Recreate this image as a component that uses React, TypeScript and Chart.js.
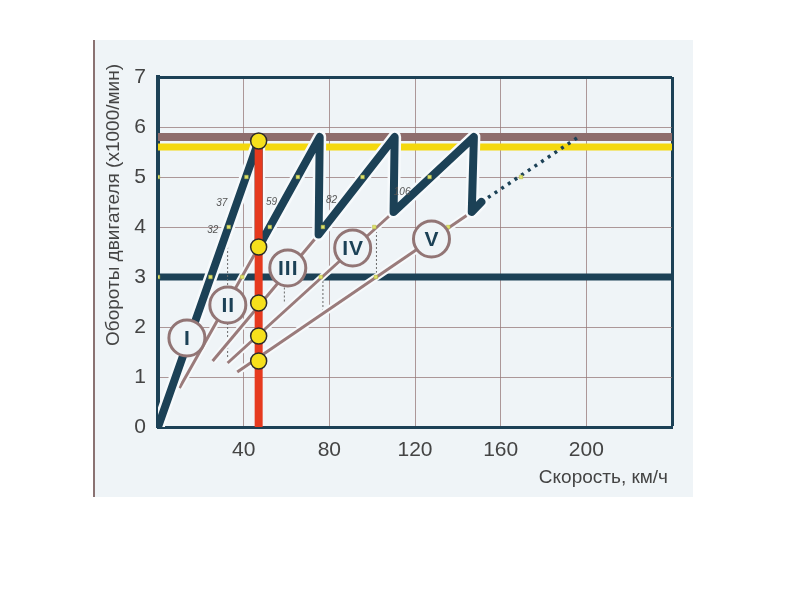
import React, { useEffect, useRef } from 'react';
import { Chart, registerables } from 'chart.js';
Chart.register(...registerables);

// ---- data ----
const xMin = 0;
const xMax = 240;
const xStep = 40;
const yMin = 0;
const yMax = 7;
const xTitle = 'Скорость, км/ч';
const yTitle = 'Обороты двигателя (x1000/мин)';

// shift sawtooth (engine rpm vs speed through the gears)
const sawX = [0, 47, 47, 75.5, 75, 110.5, 110, 147.5, 146.5, 151];
const sawY = [0, 5.72, 3.6, 5.8, 3.85, 5.8, 4.3, 5.8, 4.3, 4.5];
// 5th gear continuation (dotted)
const dotX = [151, 197];
const dotY = [4.5, 5.82];

// lower parts of gear lines II..V
const gearLineStartX = [10, 25.5, 32.5, 37];
const gearLineStartY = [0.78, 1.32, 1.28, 1.1];
const gearLineEndX = [47, 75, 110, 146.5];
const gearLineEndY = [3.6, 3.85, 4.3, 4.3];

// gear badges
const gearNames = ['I', 'II', 'III', 'IV', 'V'];
const gearCircleX = [13.5, 32.6, 60.6, 90.9, 127.7];
const gearCircleY = [1.78, 2.44, 3.18, 3.58, 3.76];

// vertical speed line and its checkpoints
const redLineX = 47;
const redLineY = [0, 5.72];
const checkpointY = [5.72, 3.6, 2.48, 1.82, 1.32];

// horizontal levels
const maxRpmLevel = 5.8;
const optimalRpmLevel = 5.6;
const minRpmLevel = 3;

// small markers
const markerX = [0, 0, 24.5, 33, 41.3, 39.3, 52.2, 65.3, 57, 77, 95.5, 76, 101, 126.8, 101.7, 135.5, 169.5];
const markerY = [5, 3, 3, 4, 5, 3, 4, 5, 3, 4, 5, 3, 4, 5, 3, 4, 5];

// small speed annotations
const speedLabels = ['37', '32', '59', '82', '106'];
const speedLabelX = [29.8, 25.6, 53, 81, 114];
const speedLabelY = [4.48, 3.94, 4.5, 4.54, 4.7];

// construction drop lines
const dropX = [32.5, 59, 77, 102];
const dropTopY = [4, 2.95, 3, 4];
const dropBottomY = [1.28, 2.5, 2.3, 3];

// ---- styles ----
const PANEL = '#eff4f7';
const NAVY = '#1c4156';
const BROWN = '#8e6d6c';
const YELLOW = '#f4d80e';
const RED = '#e63a1f';
const GEARLINE = '#9a7b7b';
const TEXT = '#444444';
const HALO = '#f7fafc';

const pts = (xs: number[], ys: number[]) => xs.map((x, i) => ({ x, y: ys[i] }));

const decorPlugin = {
  id: 'decor',
  beforeDraw(chart: any) {
    const { ctx, width, height } = chart;
    ctx.save();
    ctx.fillStyle = '#ffffff';
    ctx.fillRect(0, 0, width, height);
    ctx.fillStyle = PANEL;
    ctx.fillRect(95, 40, 598, 457);
    ctx.fillStyle = '#8a7272';
    ctx.fillRect(93, 40, 2, 457);
    ctx.restore();
  },
  afterDatasetsDraw(chart: any) {
    const { ctx } = chart;
    const xs = chart.scales.x;
    const ys = chart.scales.y;
    ctx.save();
    // gear badges text
    ctx.fillStyle = NAVY;
    ctx.textAlign = 'center';
    ctx.textBaseline = 'middle';
    ctx.font = "bold 21px 'Liberation Sans Narrow', 'Liberation Sans', sans-serif";
    try { (ctx as any).letterSpacing = '1px'; } catch (e) {}
    gearNames.forEach((n, i) => {
      ctx.fillText(n, xs.getPixelForValue(gearCircleX[i]) + 0.5, ys.getPixelForValue(gearCircleY[i]) + 1);
    });
    try { (ctx as any).letterSpacing = '0px'; } catch (e) {}
    // speed annotations
    ctx.fillStyle = '#555';
    ctx.font = "italic 10px 'Liberation Sans', sans-serif";
    speedLabels.forEach((s, i) => {
      ctx.fillText(s, xs.getPixelForValue(speedLabelX[i]), ys.getPixelForValue(speedLabelY[i]));
    });
    // axis titles
    ctx.fillStyle = TEXT;
    ctx.font = "19px 'Liberation Sans', sans-serif";
    ctx.save();
    ctx.translate(114, 205);
    ctx.rotate(-Math.PI / 2);
    ctx.fillText(yTitle, 0, 0);
    ctx.restore();
    ctx.font = "19px 'Liberation Sans', sans-serif";
    ctx.textAlign = 'right';
    ctx.fillText(xTitle, 668, 478);
    ctx.restore();
  },
};

export default function App() {
  const ref = useRef<HTMLCanvasElement>(null);
  useEffect(() => {
    if (!ref.current) return;
    const line = (data: any[], color: string, width: number, order: number, extra: any = {}) => ({
      type: 'line',
      data,
      borderColor: color,
      borderWidth: width,
      pointRadius: 0,
      showLine: true,
      fill: false,
      tension: 0,
      order,
      ...extra,
    });
    const datasets: any[] = [
      line(pts([xMin, xMax], [maxRpmLevel, maxRpmLevel]), BROWN, 8, 30),
      line(pts([xMin, xMax], [optimalRpmLevel, optimalRpmLevel]), YELLOW, 7, 29),
      line(pts([xMin, xMax], [minRpmLevel, minRpmLevel]), NAVY, 7, 28),
      ...dropX.map((x, i) =>
        line(pts([x, x], [dropTopY[i], dropBottomY[i]]), '#6a6a6a', 1, 27, { borderDash: [2, 2] })
      ),
      ...gearLineStartX.map((x, i) =>
        line(pts([x, gearLineEndX[i]], [gearLineStartY[i], gearLineEndY[i]]), HALO, 7, 26)
      ),
      ...gearLineStartX.map((x, i) =>
        line(pts([x, gearLineEndX[i]], [gearLineStartY[i], gearLineEndY[i]]), GEARLINE, 3, 25)
      ),
      line(pts(dotX, dotY), NAVY, 3.5, 24, { borderDash: [3, 5] }),
      line(pts(sawX, sawY), HALO, 13, 23, { borderJoinStyle: 'round', borderCapStyle: 'round' }),
      line(pts(sawX, sawY), NAVY, 8, 22, { borderJoinStyle: 'round', borderCapStyle: 'round' }),
      line(pts([redLineX, redLineX], redLineY), RED, 8, 21),
      {
        type: 'scatter',
        data: pts(markerX, markerY),
        pointStyle: 'rect',
        pointRadius: 2.5,
        pointBackgroundColor: '#dfe36a',
        pointBorderColor: '#b5b845',
        pointBorderWidth: 0.5,
        showLine: false,
        order: 20,
      },
      {
        type: 'scatter',
        data: pts(checkpointY.map(() => redLineX), checkpointY),
        pointRadius: 8,
        pointBackgroundColor: '#f6e01c',
        pointBorderColor: '#2a2a2a',
        pointBorderWidth: 1.5,
        showLine: false,
        order: 19,
      },
      {
        type: 'scatter',
        data: pts(gearCircleX, gearCircleY),
        pointRadius: 18,
        pointBackgroundColor: PANEL,
        pointBorderColor: '#927575',
        pointBorderWidth: 3,
        showLine: false,
        order: 18,
      },
    ];
    const tickFont = { family: "'Liberation Sans', sans-serif", size: 21 };
    const chart = new Chart(ref.current, {
      type: 'scatter',
      data: { datasets },
      options: {
        animation: false,
        responsive: true,
        maintainAspectRatio: false,
        layout: { padding: { left: 0, right: 128, top: 77, bottom: 0 } },
        plugins: { legend: { display: false }, tooltip: { enabled: false } },
        scales: {
          x: {
            type: 'linear',
            min: xMin,
            max: xMax,
            ticks: {
              stepSize: xStep,
              color: TEXT,
              font: tickFont,
              padding: 11,
              callback: (v: any) => (v === xMin || v === xMax ? '' : String(v)),
            },
            grid: {
              drawTicks: false,
              color: (c: any) =>
                c.tick && c.tick.value === xMax ? NAVY : c.tick && c.tick.value === xMin ? 'rgba(0,0,0,0)' : 'rgba(150,120,120,0.75)',
              lineWidth: (c: any) => (c.tick && c.tick.value === xMax ? 3 : 1),
            },
            border: { display: true, color: NAVY, width: 3 },
            afterFit: (s: any) => {
              s.height = 173;
            },
          },
          y: {
            type: 'linear',
            min: yMin,
            max: yMax,
            ticks: { stepSize: 1, color: TEXT, font: tickFont, padding: 12 },
            grid: {
              drawTicks: false,
              color: (c: any) =>
                c.tick && c.tick.value === yMax ? NAVY : c.tick && c.tick.value === yMin ? 'rgba(0,0,0,0)' : 'rgba(150,120,120,0.75)',
              lineWidth: (c: any) => (c.tick && c.tick.value === yMax ? 3 : 1),
            },
            border: { display: true, color: NAVY, width: 4 },
            afterFit: (s: any) => {
              s.width = 158;
            },
          },
        },
      },
      plugins: [decorPlugin],
    } as any);
    return () => chart.destroy();
  }, []);
  return (
    <div style={{ position: 'fixed', left: 0, top: 0, width: 800, height: 600 }}>
      <canvas ref={ref} />
    </div>
  );
}
